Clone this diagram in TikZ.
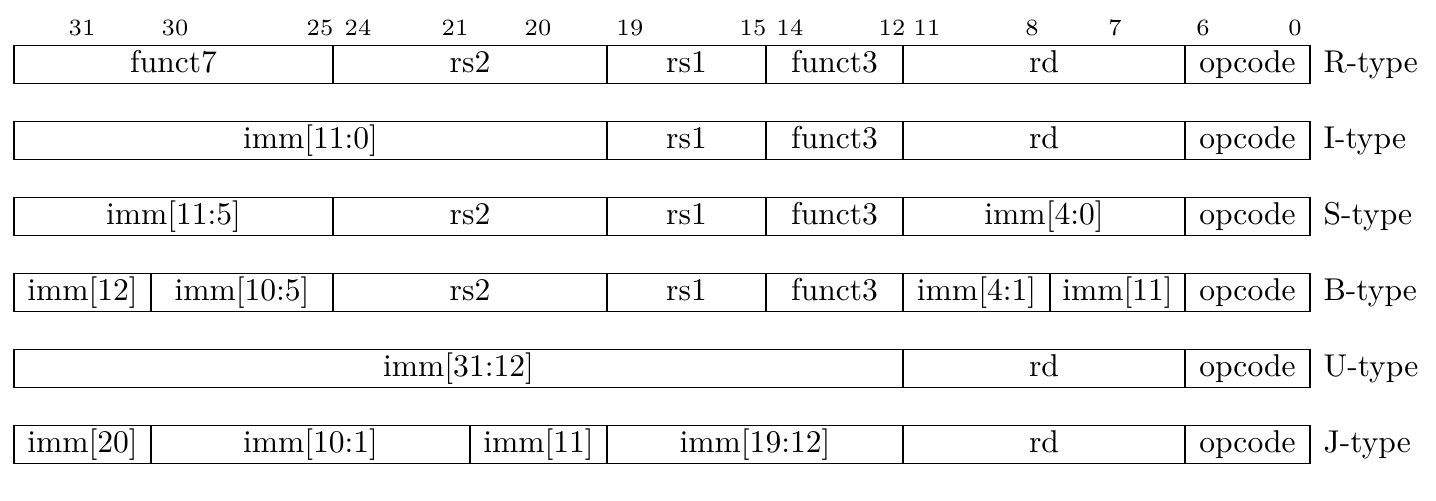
\documentclass[tikz,border=0pt]{standalone}

\begin{document}
\begin{tikzpicture}[x=0.317pt, y=-0.317pt,
		fld/.style={draw, line width=0.5pt},
		txt/.style={anchor=base},
		bitno/.style={anchor=base, inner sep=0pt, font=\fontsize{7.4}{9}\selectfont},
		kind/.style={anchor=base west, inner sep=0pt}]
	\useasboundingbox (0,0) rectangle (1436,500);
	% bit numbers
	\node[bitno] (b31) at (82,35) {31};
	\node[bitno] (b30) at (175,35) {30};
	\node[bitno] (b25) at (320,35) {25};
	\node[bitno] (b24) at (358,35) {24};
	\node[bitno] (b21) at (455,35) {21};
	\node[bitno] (b20) at (538,35) {20};
	\node[bitno] (b19) at (630,35) {19};
	\node[bitno] (b15) at (753,35) {15};
	\node[bitno] (b14) at (790,35) {14};
	\node[bitno] (b12) at (892,35) {12};
	\node[bitno] (b11) at (927,35) {11};
	\node[bitno] (b8) at (1032,35) {8};
	\node[bitno] (b7) at (1115,35) {7};
	\node[bitno] (b6) at (1203,35) {6};
	\node[bitno] (b0) at (1295,35) {0};
	% R-type
	\draw[fld] (14,45.5) rectangle (333,83.5);
	\draw[fld] (333,45.5) rectangle (607,83.5);
	\draw[fld] (607,45.5) rectangle (766,83.5);
	\draw[fld] (766,45.5) rectangle (903,83.5);
	\draw[fld] (903,45.5) rectangle (1185,83.5);
	\draw[fld] (1185,45.5) rectangle (1310,83.5);
	\node[txt] (rfunct7) at (173.5,72) {funct7};
	\node[txt] (rrs2) at (470,72) {rs2};
	\node[txt] (rrs1) at (686.5,72) {rs1};
	\node[txt] (rfunct3) at (834.5,72) {funct3};
	\node[txt] (rrd) at (1044,72) {rd};
	\node[txt] (rop) at (1247.5,72) {opcode};
	\node[kind] (rtype) at (1323,72) {R-type};
	% I-type
	\draw[fld] (14,121.5) rectangle (607,159.5);
	\draw[fld] (607,121.5) rectangle (766,159.5);
	\draw[fld] (766,121.5) rectangle (903,159.5);
	\draw[fld] (903,121.5) rectangle (1185,159.5);
	\draw[fld] (1185,121.5) rectangle (1310,159.5);
	\node[txt] (iimm) at (310.5,148) {imm[11:0]};
	\node[txt] (irs1) at (686.5,148) {rs1};
	\node[txt] (ifunct3) at (834.5,148) {funct3};
	\node[txt] (ird) at (1044,148) {rd};
	\node[txt] (iop) at (1247.5,148) {opcode};
	\node[kind] (itype) at (1323,148) {I-type};
	% S-type
	\draw[fld] (14,197.5) rectangle (333,235.5);
	\draw[fld] (333,197.5) rectangle (607,235.5);
	\draw[fld] (607,197.5) rectangle (766,235.5);
	\draw[fld] (766,197.5) rectangle (903,235.5);
	\draw[fld] (903,197.5) rectangle (1185,235.5);
	\draw[fld] (1185,197.5) rectangle (1310,235.5);
	\node[txt] (simmhi) at (173.5,224) {imm[11:5]};
	\node[txt] (srs2) at (470,224) {rs2};
	\node[txt] (srs1) at (686.5,224) {rs1};
	\node[txt] (sfunct3) at (834.5,224) {funct3};
	\node[txt] (simmlo) at (1044,224) {imm[4:0]};
	\node[txt] (sop) at (1247.5,224) {opcode};
	\node[kind] (stype) at (1323,224) {S-type};
	% B-type
	\draw[fld] (14,273.5) rectangle (151,311.5);
	\draw[fld] (151,273.5) rectangle (333,311.5);
	\draw[fld] (333,273.5) rectangle (607,311.5);
	\draw[fld] (607,273.5) rectangle (766,311.5);
	\draw[fld] (766,273.5) rectangle (903,311.5);
	\draw[fld] (903,273.5) rectangle (1050,311.5);
	\draw[fld] (1050,273.5) rectangle (1185,311.5);
	\draw[fld] (1185,273.5) rectangle (1310,311.5);
	\node[txt] (bimma) at (82.5,300) {imm[12]};
	\node[txt] (bimmb) at (242,300) {imm[10:5]};
	\node[txt] (brs2) at (470,300) {rs2};
	\node[txt] (brs1) at (686.5,300) {rs1};
	\node[txt] (bfunct3) at (834.5,300) {funct3};
	\node[txt] (bimmc) at (976.5,300) {imm[4:1]};
	\node[txt] (bimmd) at (1117.5,300) {imm[11]};
	\node[txt] (bop) at (1247.5,300) {opcode};
	\node[kind] (btype) at (1323,300) {B-type};
	% U-type
	\draw[fld] (14,349.5) rectangle (903,387.5);
	\draw[fld] (903,349.5) rectangle (1185,387.5);
	\draw[fld] (1185,349.5) rectangle (1310,387.5);
	\node[txt] (uimm) at (458.5,376) {imm[31:12]};
	\node[txt] (urd) at (1044,376) {rd};
	\node[txt] (uop) at (1247.5,376) {opcode};
	\node[kind] (utype) at (1323,376) {U-type};
	% J-type
	\draw[fld] (14,425.5) rectangle (151,463.5);
	\draw[fld] (151,425.5) rectangle (470,463.5);
	\draw[fld] (470,425.5) rectangle (607,463.5);
	\draw[fld] (607,425.5) rectangle (903,463.5);
	\draw[fld] (903,425.5) rectangle (1185,463.5);
	\draw[fld] (1185,425.5) rectangle (1310,463.5);
	\node[txt] (jimma) at (82.5,452) {imm[20]};
	\node[txt] (jimmb) at (310.5,452) {imm[10:1]};
	\node[txt] (jimmc) at (538.5,452) {imm[11]};
	\node[txt] (jimmd) at (755,452) {imm[19:12]};
	\node[txt] (jrd) at (1044,452) {rd};
	\node[txt] (jop) at (1247.5,452) {opcode};
	\node[kind] (jtype) at (1323,452) {J-type};
\end{tikzpicture}
\end{document}
